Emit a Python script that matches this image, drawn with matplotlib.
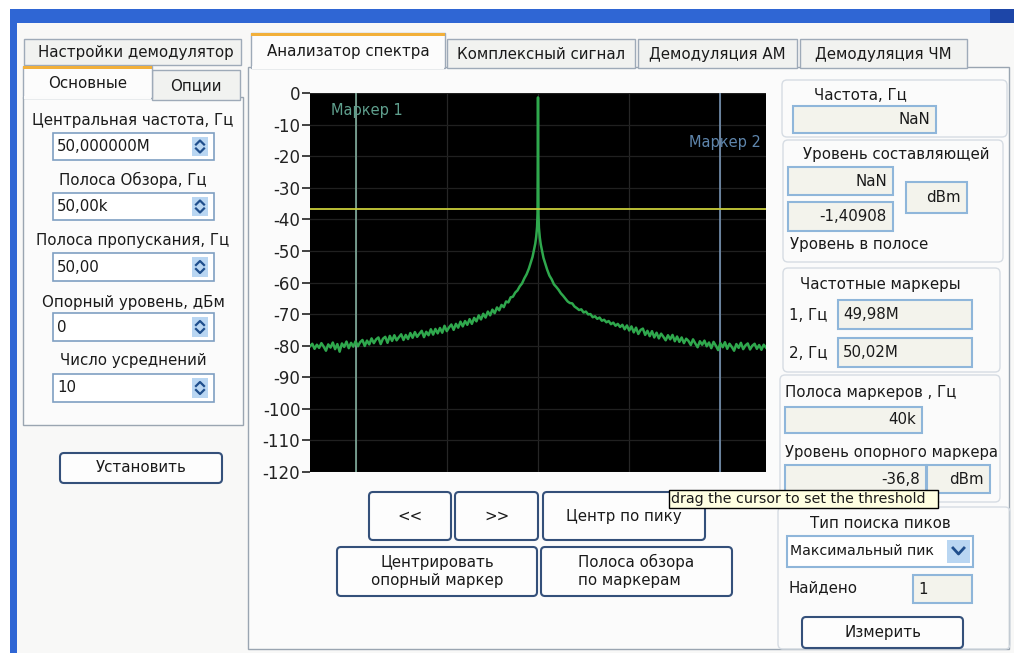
import matplotlib
matplotlib.use("Agg")
import matplotlib.pyplot as plt
from matplotlib.patches import Rectangle, FancyBboxPatch

plt.rcParams['font.family'] = ['DejaVu Sans']
plt.rcParams['axes.unicode_minus'] = False

# --- spectrum data: offset from centre (kHz) and level (dBm)
center_mhz = 50.0
left_khz = [-25.0, -24.75, -24.5, -24.25, -24.0, -23.75, -23.5, -23.25, -23.0, -22.75,
            -22.5, -22.25, -22.0, -21.75, -21.5, -21.25, -21.0, -20.75, -20.5, -20.25,
            -20.0, -19.75, -19.5, -19.25, -19.0, -18.75, -18.5, -18.25, -18.0, -17.75,
            -17.5, -17.25, -17.0, -16.75, -16.5, -16.25, -16.0, -15.75, -15.5, -15.25,
            -15.0, -14.75, -14.5, -14.25, -14.0, -13.75, -13.5, -13.25, -13.0, -12.75,
            -12.5, -12.25, -12.0, -11.75, -11.5, -11.25, -11.0, -10.75, -10.5, -10.25,
            -10.0, -9.75, -9.5, -9.25, -9.0, -8.75, -8.5, -8.25, -8.0, -7.75,
            -7.5, -7.25, -7.0, -6.75, -6.5, -6.25, -6.0, -5.75, -5.5, -5.25,
            -5.0, -4.75, -4.5, -4.25, -4.0, -3.75, -3.5, -3.25, -3.0, -2.75,
            -2.5, -2.25, -2.0, -1.75, -1.5]
left_dbm = [-80.2, -79.4, -81.0, -79.7, -80.7, -79.2, -80.3, -81.6, -79.6, -80.6,
            -79.0, -81.1, -79.5, -81.9, -79.3, -80.4, -78.7, -80.8, -79.1, -80.3,
            -78.6, -80.2, -78.9, -78.2, -80.1, -78.4, -79.6, -77.7, -79.2, -78.0,
            -77.4, -79.5, -77.8, -77.2, -79.1, -76.9, -78.5, -76.7, -78.3, -77.3,
            -76.4, -78.2, -76.6, -77.9, -76.0, -77.5, -75.7, -77.2, -76.2, -75.3,
            -77.3, -75.6, -76.7, -74.8, -76.5, -74.7, -76.1, -74.4, -75.9, -73.7,
            -75.4, -74.2, -73.3, -75.0, -73.1, -74.3, -72.4, -73.9, -72.2, -73.4,
            -71.6, -73.1, -71.2, -72.3, -70.4, -71.7, -69.9, -71.1, -69.2, -70.4,
            -68.6, -69.7, -67.9, -68.8, -67.1, -67.8, -66.0, -66.3, -64.7, -64.5,
            -63.2, -62.5, -61.2, -60.3, -58.7]
peak_khz = [-1.25, -1.0, -0.8, -0.6, -0.45, -0.3, -0.2, -0.1, -0.05, 0.0,
            0.05, 0.1, 0.2, 0.3, 0.45, 0.6, 0.8, 1.0, 1.25]
peak_dbm = [-57.4, -55.6, -53.8, -51.9, -49.8, -47.7, -45.6, -42.4, -38.1, -1.4,
            -38.4, -42.7, -45.8, -47.9, -50.1, -52.2, -54.1, -55.9, -57.8]
right_khz = [1.5, 1.75, 2.0, 2.25, 2.5, 2.75, 3.0, 3.25, 3.5, 3.75,
             4.0, 4.25, 4.5, 4.75, 5.0, 5.25, 5.5, 5.75, 6.0, 6.25,
             6.5, 6.75, 7.0, 7.25, 7.5, 7.75, 8.0, 8.25, 8.5, 8.75,
             9.0, 9.25, 9.5, 9.75, 10.0, 10.25, 10.5, 10.75, 11.0, 11.25,
             11.5, 11.75, 12.0, 12.25, 12.5, 12.75, 13.0, 13.25, 13.5, 13.75,
             14.0, 14.25, 14.5, 14.75, 15.0, 15.25, 15.5, 15.75, 16.0, 16.25,
             16.5, 16.75, 17.0, 17.25, 17.5, 17.75, 18.0, 18.25, 18.5, 18.75,
             19.0, 19.25, 19.5, 19.75, 20.0, 20.25, 20.5, 20.75, 21.0, 21.25,
             21.5, 21.75, 22.0, 22.25, 22.5, 22.75, 23.0, 23.25, 23.5, 23.75,
             24.0, 24.25, 24.5, 24.75, 25.0]
right_dbm = [-59.0, -60.6, -61.4, -62.3, -63.4, -64.2, -65.1, -66.0, -66.5, -66.6,
             -67.6, -68.1, -68.7, -68.5, -69.5, -69.2, -70.1, -70.0, -71.0, -70.7,
             -71.5, -71.1, -72.1, -71.8, -72.6, -72.2, -73.2, -72.7, -73.7, -73.1,
             -74.1, -73.4, -74.8, -73.6, -75.2, -73.9, -75.8, -74.3, -76.3, -75.0,
             -74.6, -76.6, -75.3, -77.0, -75.4, -77.4, -75.9, -77.7, -76.2, -77.2,
             -78.3, -76.7, -78.0, -76.6, -78.6, -77.1, -78.8, -77.4, -79.2, -77.8,
             -78.5, -79.8, -78.0, -79.3, -80.5, -78.6, -79.7, -78.4, -80.2, -79.0,
             -80.8, -78.8, -80.0, -81.4, -79.2, -80.5, -78.9, -81.0, -79.4, -80.4,
             -81.6, -79.5, -80.7, -79.1, -81.1, -79.9, -79.3, -81.2, -80.0, -79.4,
             -81.0, -79.8, -81.3, -79.7, -80.6]

span_khz = 50.0
marker1_mhz = 49.98
marker2_mhz = 50.02
threshold_dbm = -36.8
y_ticks = [0, -10, -20, -30, -40, -50, -60, -70, -80, -90, -100, -110, -120]
grid_mhz = [49.98, 49.99, 50.00, 50.01, 50.02]

W, H = 1014, 653
fig = plt.figure(figsize=(W / 100, H / 100), dpi=100)
fig.patch.set_facecolor('white')

gui = fig.add_axes([0, 0, 1, 1])
gui.set_xlim(0, W)
gui.set_ylim(H, 0)
gui.axis('off')

TXT = '#1a1a1a'
FS = 10.8


def rect(x0, y0, x1, y1, fc='none', ec='none', lw=1.0, r=0, z=1):
    if r:
        p = FancyBboxPatch((x0, y0), x1 - x0, y1 - y0,
                           boxstyle=f"round,pad=0,rounding_size={r}",
                           fc=fc, ec=ec, lw=lw, zorder=z)
    else:
        p = Rectangle((x0, y0), x1 - x0, y1 - y0, fc=fc, ec=ec, lw=lw, zorder=z)
    gui.add_patch(p)
    return p


def label(x, y, s, ha='center', fs=FS, z=5, **kw):
    return gui.text(x, y, s, ha=ha, va='center', fontsize=fs, color=TXT, zorder=z, **kw)


def button(x0, y0, x1, y1, s):
    rect(x0, y0, x1, y1, fc='#fdfdfd', ec='#34507a', lw=1.5, r=4, z=3)
    label((x0 + x1) / 2, (y0 + y1) / 2, s, multialignment='center')


def tab(x0, y0, x1, y1, s, active=False, left=None):
    p = rect(x0, y0, x1, y1, fc='#fcfcfc' if active else '#f1f2f0', ec='#9eaab8', lw=1, z=2)
    if active:
        rect(x0, y0, x1, y0 + 3, fc='#f2b03a', ec='none', z=3)
    if left is None:
        label((x0 + x1) / 2, (y0 + y1) / 2 + 1, s)
    else:
        t = label(left, (y0 + y1) / 2 + 1, s, ha='left')
        t.set_clip_path(p)


def spin_box(x0, y0, x1, y1, s):
    rect(x0, y0, x1, y1, fc='#ffffff', ec='#7f9fc2', lw=1.2, z=3)
    label(x0 + 4, (y0 + y1) / 2, s, ha='left')
    bx = x1 - 22
    rect(bx, y0 + 4, bx + 16, y1 - 4, fc='#b9d6f2', ec='none', z=4)
    cx, cy = bx + 8, (y0 + y1) / 2
    gui.plot([cx - 4, cx, cx + 4], [cy - 2, cy - 6, cy - 2], color='#1f4e8c', lw=1.6, zorder=5)
    gui.plot([cx - 4, cx, cx + 4], [cy + 2, cy + 6, cy + 2], color='#1f4e8c', lw=1.6, zorder=5)


def ro_box(x0, y0, x1, y1, s, ha='right'):
    rect(x0, y0, x1, y1, fc='#f3f3ec', ec='#8fb6da', lw=1.5, z=3)
    if ha == 'right':
        label(x1 - 6, (y0 + y1) / 2, s, ha='right')
    else:
        label(x0 + 5, (y0 + y1) / 2, s, ha='left')


# --- window frame
rect(17, 22, W, H, fc='#f8f8f7', z=0)
rect(10, 9, W, 23, fc='#2f66d4', z=1)
rect(990, 9, W, 23, fc='#1d46a8', z=1)
rect(10, 9, 17, H, fc='#2f66d4', z=1)

# --- left settings panel
tab(24, 39, 241, 65, 'Настройки демодулятор', left=38)
rect(23, 97, 243, 425, fc='#fbfbfb', ec='#9aa5b1', lw=1, z=2)
tab(152, 70, 240, 100, 'Опции')
tab(23, 66, 152, 98, 'Основные', active=True)
rect(24, 96, 151, 99, fc='#fbfbfb', z=3)

left_fields = ['Центральная частота, Гц', 'Полоса Обзора, Гц', 'Полоса пропускания, Гц',
               'Опорный уровень, дБм', 'Число усреднений']
left_values = ['50,000000M', '50,00k', '50,00', '0', '10']
label_y = [120, 180, 240, 302, 361]
box_y = [(133, 160), (193, 220), (253, 281), (313, 341), (374, 402)]
for name, val, ly, (b0, b1) in zip(left_fields, left_values, label_y, box_y):
    label(133, ly, name)
    spin_box(53, b0, 214, b1, val)
button(60, 453, 222, 483, 'Установить')

# --- main tab panel
rect(248, 67, 1009, 649, fc='#fbfbfb', ec='#9aa5b1', lw=1, z=1)
tab(447, 39, 635, 68, 'Комплексный сигнал')
tab(638, 39, 797, 68, 'Демодуляция АМ')
tab(800, 39, 967, 68, 'Демодуляция ЧМ')
tab(251, 33, 445, 68, 'Анализатор спектра', active=True)
rect(252, 66, 444, 69, fc='#fcfcfc', z=3)

# --- buttons under the plot
button(369, 492, 451, 540, '<<')
button(455, 492, 538, 540, '>>')
button(543, 492, 705, 540, 'Центр по пику')
button(337, 547, 537, 596, 'Центрировать\nопорный маркер')
rect(541, 547, 732, 596, fc='#fdfdfd', ec='#34507a', lw=1.5, r=4, z=3)
label(636, 571, 'Полоса обзора\nпо маркерам', multialignment='left')

# --- right side readouts
grp = dict(fc='none', ec='#d6dce3', lw=1, r=5, z=2)
rect(782, 80, 1007, 137, **grp)
rect(783, 140, 1003, 262, **grp)
rect(783, 268, 1000, 372, **grp)
rect(780, 375, 1000, 502, **grp)
rect(778, 507, 1010, 649, **grp)

label(860, 95, 'Частота, Гц')
ro_box(793, 106, 936, 133, 'NaN')
label(896, 154, 'Уровень составляющей')
ro_box(788, 167, 893, 195, 'NaN')
ro_box(906, 182, 967, 213, 'dBm')
ro_box(788, 202, 893, 231, '-1,40908')
label(790, 245, 'Уровень в полосе', ha='left')
label(880, 285, 'Частотные маркеры')
label(789, 316, '1, Гц', ha='left')
ro_box(838, 300, 972, 329, '49,98M', ha='left')
label(789, 353, '2, Гц', ha='left')
ro_box(838, 338, 972, 367, '50,02M', ha='left')
label(785, 392, 'Полоса маркеров , Гц', ha='left')
ro_box(785, 407, 922, 433, '40k')
label(785, 453, 'Уровень опорного маркера', ha='left', fs=10.6)
ro_box(785, 465, 926, 493, '-36,8')
ro_box(927, 465, 990, 493, 'dBm')

label(880, 523, 'Тип поиска пиков')
rect(787, 536, 973, 567, fc='#ffffff', ec='#8fb6da', lw=1.5, z=3)
label(790, 551, 'Максимальный пик', ha='left', fs=10.2)
rect(947, 540, 970, 563, fc='#b9d6f2', ec='none', z=4)
gui.plot([953, 958.5, 964], [548, 554, 548], color='#1f4e8c', lw=2, zorder=5)
label(788, 588, 'Найдено', ha='left')
ro_box(913, 575, 972, 603, '1', ha='left')
button(802, 617, 963, 648, 'Измерить')

# tooltip
rect(669, 490, 938, 508, fc='#ffffe1', ec='#000000', lw=1, z=8)
label(671, 499.5, 'drag the cursor to set the threshold', ha='left', fs=10.3, z=9)

# --- spectrum plot
x0, x1, y0, y1 = 310, 766, 93, 472
ax = fig.add_axes([x0 / W, 1 - y1 / H, (x1 - x0) / W, (y1 - y0) / H])
ax.set_facecolor('black')

khz = left_khz + peak_khz + right_khz
dbm = left_dbm + peak_dbm + right_dbm
freq = [center_mhz + k / 1000.0 for k in khz]

ax.set_xlim(center_mhz - span_khz / 2000, center_mhz + span_khz / 2000)
ax.set_ylim(-120, 0)
for g in grid_mhz:
    ax.axvline(g, color='#262626', lw=0.9, zorder=1)
for t in y_ticks:
    ax.axhline(t, color='#202020', lw=0.9, zorder=1)

ax.axvline(marker1_mhz, color='#8cbcaa', lw=1.1, zorder=2)
ax.axvline(marker2_mhz, color='#7f9fc2', lw=1.1, zorder=2)
ax.axhline(threshold_dbm, color='#c9cd3a', lw=1.3, zorder=4)
ax.plot(freq, dbm, color='#2fa84d', lw=1.8, zorder=3)
ax.text(0.045, 0.955, 'Маркер 1', transform=ax.transAxes, color='#5fa08e', fontsize=10.5, va='center')
ax.text(0.988, 0.87, 'Маркер 2', transform=ax.transAxes, color='#5f86ad', fontsize=10.5,
        va='center', ha='right')

ax.set_yticks(y_ticks)
ax.set_xticks([])
ax.tick_params(axis='y', length=6, width=1.3, color='#333333', pad=1,
               labelsize=12, labelcolor='#222222')
for s in ax.spines.values():
    s.set_visible(False)

fig.savefig('out.png', dpi=100, facecolor=fig.get_facecolor())
